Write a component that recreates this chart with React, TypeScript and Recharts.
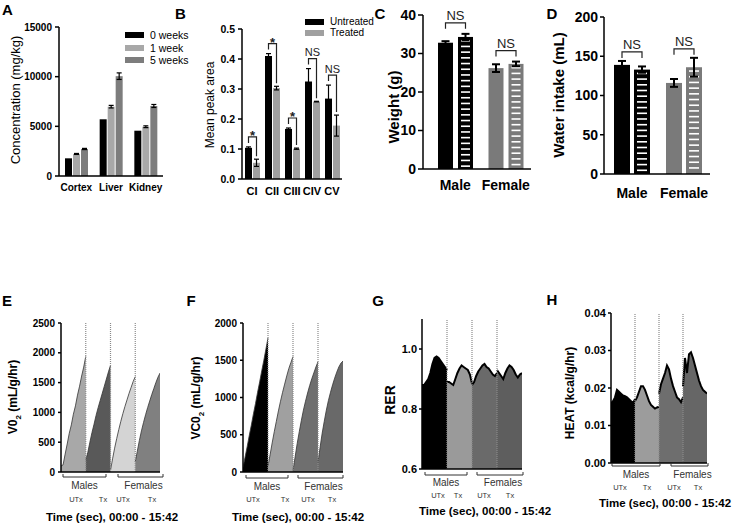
import React from 'react';
import { BarChart, Bar, XAxis, YAxis, ErrorBar, AreaChart, Area, ReferenceLine } from 'recharts';

const FONT = '"Liberation Sans", Arial, Helvetica, sans-serif';

// ---------- Panel A ----------
const tissues = ['Cortex', 'Liver', 'Kidney'];
const conc0w = [1780, 5710, 4560];
const conc1w = [2220, 6980, 4960];
const conc5w = [2720, 10050, 7050];
const conc1wErr = [50, 130, 90];
const conc5wErr = [60, 330, 150];
const concTicks = [0, 5000, 10000, 15000];
const concSeries = ['0 weeks', '1 week', '5 weeks'];
const concColors = ['#000000', '#a8a8a8', '#7d7d7d'];

// ---------- Panel B ----------
const complexes = ['CI', 'CII', 'CIII', 'CIV', 'CV'];
const peakUntreated = [0.104, 0.41, 0.167, 0.325, 0.268];
const peakUntreatedErr = [0.003, 0.008, 0.003, 0.043, 0.045];
const peakTreated = [0.054, 0.303, 0.101, 0.258, 0.178];
const peakTreatedErr = [0.012, 0.006, 0.002, 0.001, 0.035];
const peakSig = ['*', '*', '*', 'NS', 'NS'];
const peakTicks = [0, 0.1, 0.2, 0.3, 0.4, 0.5];
const peakSeries = ['Untreated', 'Treated'];
const peakColors = ['#000000', '#a0a0a0'];

// ---------- Panels C, D ----------
const sexes = ['Male', 'Female'];
const sexColors = ['#000000', '#7a7a7a'];
const weightUTx = [32.8, 26.2];
const weightUTxErr = [0.4, 1.0];
const weightTx = [34.3, 27.3];
const weightTxErr = [0.8, 0.6];
const weightTicks = [0, 10, 20, 30, 40];
const intakeUTx = [139, 116];
const intakeUTxErr = [5, 5];
const intakeTx = [133, 136];
const intakeTxErr = [4, 12];
const intakeTicks = [0, 50, 100, 150, 200];

// ---------- Panels E-H (four phases: Males UTx, Males Tx, Females UTx, Females Tx) ----------
const vo2Phases = [
  [100, 120, 300, 470, 650, 790, 970, 1110, 1290, 1440, 1610, 1760, 1940],
  [200, 330, 500, 660, 800, 950, 1080, 1200, 1320, 1440, 1560, 1680, 1790],
  [30, 220, 400, 560, 710, 850, 980, 1100, 1210, 1320, 1420, 1520, 1600],
  [170, 350, 530, 690, 830, 960, 1080, 1190, 1300, 1400, 1500, 1590, 1660],
];
const vo2Ticks = [0, 500, 1000, 1500, 2000, 2500];
const vco2Phases = [
  [60, 200, 340, 490, 630, 780, 920, 1070, 1210, 1360, 1500, 1650, 1800],
  [80, 230, 390, 540, 680, 820, 950, 1070, 1180, 1290, 1390, 1470, 1550],
  [20, 200, 380, 540, 690, 830, 950, 1060, 1160, 1250, 1330, 1410, 1480],
  [130, 330, 520, 680, 830, 960, 1070, 1170, 1260, 1340, 1410, 1460, 1490],
];
const vco2Ticks = [0, 500, 1000, 1500, 2000];
const rerPhases = [
  [0.88, 0.88, 0.89, 0.9, 0.92, 0.95, 0.97, 0.975, 0.97, 0.96, 0.95, 0.94, 0.93],
  [0.89, 0.89, 0.885, 0.88, 0.9, 0.92, 0.935, 0.945, 0.94, 0.935, 0.93, 0.915, 0.885],
  [0.88, 0.89, 0.91, 0.925, 0.935, 0.945, 0.95, 0.94, 0.935, 0.925, 0.915, 0.91, 0.92],
  [0.93, 0.92, 0.91, 0.9, 0.92, 0.935, 0.945, 0.94, 0.93, 0.915, 0.905, 0.915, 0.92],
];
const rerTicks = [0.6, 0.8, 1.0];
const heatPhases = [
  [0.016, 0.0165, 0.0175, 0.0195, 0.019, 0.0185, 0.018, 0.0178, 0.0175, 0.017, 0.0165, 0.016, 0.017],
  [0.0165, 0.0175, 0.019, 0.0205, 0.0205, 0.0195, 0.018, 0.0165, 0.0155, 0.015, 0.0145, 0.0148, 0.015],
  [0.0185, 0.021, 0.0225, 0.024, 0.026, 0.025, 0.0225, 0.0205, 0.019, 0.0175, 0.017, 0.0162, 0.0175],
  [0.0205, 0.028, 0.024, 0.029, 0.0295, 0.028, 0.026, 0.024, 0.022, 0.0205, 0.0195, 0.019, 0.0185],
];
const heatTicks = [0, 0.01, 0.02, 0.03, 0.04];
const groupLabels = ['Males', 'Females'];
const phaseLabels = ['UTx', 'Tx', 'UTx', 'Tx'];
const timeLabel = 'Time (sec), 00:00 - 15:42';

// ---------- data tables ----------
const concData = tissues.map((name, i) => ({
  name, w0: conc0w[i], w1: conc1w[i], w5: conc5w[i], w1Err: conc1wErr[i], w5Err: conc5wErr[i],
}));
const peakData = complexes.map((name, i) => ({
  name, untreated: peakUntreated[i], untreatedErr: peakUntreatedErr[i],
  treated: peakTreated[i], treatedErr: peakTreatedErr[i], sig: peakSig[i],
}));
const weightData = sexes.map((name, i) => ({
  name, utx: weightUTx[i], utxErr: weightUTxErr[i], tx: weightTx[i], txErr: weightTxErr[i],
}));
const intakeData = sexes.map((name, i) => ({
  name, utx: intakeUTx[i], utxErr: intakeUTxErr[i], tx: intakeTx[i], txErr: intakeTxErr[i],
}));

function buildPhaseRows(phases: number[][]) {
  const n = phases[0].length - 1;
  const rows: any[] = [];
  for (let t = 0; t <= n * phases.length; t++) {
    const row: any = { t };
    phases.forEach((seg, s) => {
      const i = t - s * n;
      row['p' + s] = i >= 0 && i <= n ? seg[i] : null;
    });
    rows.push(row);
  }
  return rows;
}

// ---------- helpers ----------
const abs = (left: number, top: number): React.CSSProperties => ({ position: 'absolute', left, top });

function Txt({ x, y, children, size = 12, weight = 'normal', color = '#000', rotate = false }: any) {
  return (
    <div
      style={{
        position: 'absolute', left: x, top: y, fontSize: size, fontWeight: weight, color,
        whiteSpace: 'nowrap', lineHeight: 1, fontFamily: FONT,
        transform: `translate(-50%, -50%)${rotate ? ' rotate(-90deg)' : ''}`,
      }}
    >
      {children}
    </div>
  );
}

function LegendBox({ x, y, rowGap, items, colors, size }: any) {
  return (
    <div style={{ position: 'absolute', left: x, top: y, fontFamily: FONT, fontSize: size }}>
      {items.map((it: string, i: number) => (
        <div key={it} style={{ display: 'flex', alignItems: 'center', height: rowGap, lineHeight: 1 }}>
          <div style={{ width: 19, height: 6, background: colors[i], marginRight: 6 }} />
          <span>{it}</span>
        </div>
      ))}
    </div>
  );
}

const axisLine = { stroke: '#000', strokeWidth: 1.5 };
const tickLine = { stroke: '#000', strokeWidth: 1.5 };

// Treated bar of B with the significance bracket
const B_GAP = 1;
function PeakTreatedShape(props: any) {
  const { x, y, width, height, payload } = props;
  const unit = height / payload.treated;
  const base = y + height;
  const xu = x - B_GAP - width / 2;
  const xt = x + width / 2;
  const yu = base - (payload.untreated + payload.untreatedErr) * unit;
  const yt = y - payload.treatedErr * unit;
  const hy = yu - 10;
  const star = payload.sig === '*';
  return (
    <g>
      <rect x={x} y={y} width={width} height={height} fill={peakColors[1]} />
      <path d={`M${xu},${hy + 6}L${xu},${hy}L${xt},${hy}L${xt},${yt - 3}`} fill="none" stroke="#222" strokeWidth={1.2} />
      <text x={(xu + xt) / 2} y={star ? hy + 3 : hy - 2.5} textAnchor="middle" fontSize={star ? 13 : 11}
        fontWeight={star ? 'bold' : 'normal'} fill="#222" fontFamily={FONT}>{payload.sig}</text>
    </g>
  );
}

function makeSexShapes(gap: number, rise: number) {
  const UTx = (props: any) => {
    const { x, y, width, height, index } = props;
    return <rect x={x} y={y} width={width} height={height} fill={sexColors[index]} />;
  };
  const Tx = (props: any) => {
    const { x, y, width, height, index, payload } = props;
    const unit = height / payload.tx;
    const base = y + height;
    const dashes: any[] = [];
    for (let yy = y + 3; yy < base - 2; yy += 5.7) {
      dashes.push(<rect key={yy} x={x + 3} y={yy} width={width - 6} height={1.6} fill="#fff" />);
    }
    const xu = x - gap - width / 2;
    const xt = x + width / 2;
    const yu = base - (payload.utx + payload.utxErr) * unit;
    const yt = y - payload.txErr * unit;
    const hy = Math.min(yu, yt) - rise;
    return (
      <g>
        <rect x={x} y={y} width={width} height={height} fill={sexColors[index]} />
        {dashes}
        <path d={`M${xu},${hy + 6}L${xu},${hy}L${xt},${hy}L${xt},${hy + 6}`} fill="none" stroke="#222" strokeWidth={1.2} />
        <text x={(xu + xt) / 2} y={hy - 2.5} textAnchor="middle" fontSize={13} fill="#222" fontFamily={FONT}>NS</text>
      </g>
    );
  };
  return { UTx, Tx };
}

function SexPanel({ left, data, ticks, yw, width, height, margin, barSize, gap, rise, tickSize, tickMargin, xTickMargin, padLeft }: any) {
  const shapes = makeSexShapes(gap, rise);
  return (
    <div style={abs(left, 0)}>
      <BarChart width={width} height={height} data={data} margin={margin} barSize={barSize} barGap={gap}>
        <XAxis dataKey="name" axisLine={axisLine} tickLine={false} tickSize={0} tickMargin={xTickMargin} height={24}
          interval={0} padding={{ left: padLeft, right: 0 }}
          tick={{ fontSize: 14, fontWeight: 'bold', fill: '#000', fontFamily: FONT }} />
        <YAxis type="number" domain={[ticks[0], ticks[ticks.length - 1]]} ticks={ticks} width={yw} interval={0}
          axisLine={axisLine} tickLine={tickLine} tickSize={tickSize} tickMargin={tickMargin}
          tick={{ fontSize: 14, fontWeight: 'bold', fill: '#000', fontFamily: FONT }} />
        <Bar dataKey="utx" isAnimationActive={false} shape={shapes.UTx}>
          <ErrorBar dataKey="utxErr" width={4} strokeWidth={2} stroke="#000" />
        </Bar>
        <Bar dataKey="tx" isAnimationActive={false} shape={shapes.Tx}>
          <ErrorBar dataKey="txErr" width={4} strokeWidth={2} stroke="#000" />
        </Bar>
      </BarChart>
    </div>
  );
}

function PhasePanel({ left, top, width, height, margin, yw, phases, colors, ticks, fmt, strokeW, tickSize, tickMargin, tickFont }: any) {
  const rows = buildPhaseRows(phases);
  const n = phases[0].length - 1;
  const total = n * phases.length;
  const bounds = phases.slice(1).map((_: any, i: number) => (i + 1) * n);
  return (
    <div style={abs(left, top)}>
      <AreaChart width={width} height={height} data={rows} margin={margin}>
        <XAxis dataKey="t" type="number" domain={[0, total]} allowDataOverflow tick={false} tickLine={false}
          axisLine={axisLine} height={2} />
        <YAxis type="number" domain={[ticks[0], ticks[ticks.length - 1] + (fmt === 1 ? 0.1 : 0)]} allowDataOverflow
          ticks={ticks} interval={0} width={yw} axisLine={axisLine} tickLine={tickLine} tickSize={tickSize}
          tickMargin={tickMargin} tickFormatter={(v: number) => (fmt === 0 ? String(v) : v.toFixed(fmt))}
          tick={{ fontSize: tickFont, fontWeight: 'bold', fill: '#000', fontFamily: FONT }} />
        {phases.map((_: any, s: number) => (
          <Area key={s} dataKey={'p' + s} type="linear" fill={colors[s]} fillOpacity={1}
            stroke={strokeW > 1 ? '#000' : '#333'} strokeWidth={strokeW} dot={false} activeDot={false}
            isAnimationActive={false} connectNulls={false} />
        ))}
        {bounds.map((b: number) => (
          <ReferenceLine key={b} x={b} stroke="#8a8a8a" strokeWidth={1.2} strokeDasharray="1 1" />
        ))}
      </AreaChart>
    </div>
  );
}

function PhaseLabels({ males, females, bracketY, groupY, phaseY, phaseXs, timeX, timeY }: any) {
  const br = (a: number, b: number) => `M${a},${bracketY - 3}L${a},${bracketY}L${b},${bracketY}L${b},${bracketY - 3}`;
  return (
    <>
      <svg style={{ position: 'absolute', left: 0, top: 0, overflow: 'visible' }} width={1} height={1}>
        <path d={br(males[0], males[1])} fill="none" stroke="#333" strokeWidth={1} />
        <path d={br(females[0], females[1])} fill="none" stroke="#333" strokeWidth={1} />
      </svg>
      <Txt x={(males[0] + males[1]) / 2} y={groupY} size={10} color="#333">{groupLabels[0]}</Txt>
      <Txt x={(females[0] + females[1]) / 2 + 3} y={groupY} size={10} color="#333">{groupLabels[1]}</Txt>
      {phaseXs.map((x: number, i: number) => (
        <Txt key={i} x={x} y={phaseY} size={7.5} color="#333">{phaseLabels[i]}</Txt>
      ))}
      <Txt x={timeX} y={timeY} size={11.5} weight="bold">{timeLabel}</Txt>
    </>
  );
}

export default function App() {
  return (
    <div style={{ position: 'absolute', left: 0, top: 0, width: 733, height: 528, background: '#fff', fontFamily: FONT, overflow: 'hidden' }}>
      {/* Panel letters */}
      <Txt x={7.5} y={9} size={15} weight="bold">A</Txt>
      <Txt x={180.5} y={12.5} size={15} weight="bold">B</Txt>
      <Txt x={380} y={12.5} size={15} weight="bold">C</Txt>
      <Txt x={552} y={12.5} size={15} weight="bold">D</Txt>
      <Txt x={7} y={300} size={15} weight="bold">E</Txt>
      <Txt x={191} y={300} size={15} weight="bold">F</Txt>
      <Txt x={378} y={300} size={15} weight="bold">G</Txt>
      <Txt x={552} y={299} size={15} weight="bold">H</Txt>

      {/* Panel A */}
      <div style={abs(0, 0)}>
        <BarChart width={185} height={200} data={concData} margin={{ top: 27, right: 22, bottom: 4, left: 0 }} barSize={7} barGap={1}>
          <XAxis dataKey="name" axisLine={axisLine} tickLine={false} tickSize={0} tickMargin={8} height={20} interval={0}
            tick={{ fontSize: 10, fontWeight: 'bold', fill: '#000', fontFamily: FONT }} />
          <YAxis type="number" domain={[0, 15000]} ticks={concTicks} interval={0} width={59} axisLine={axisLine}
            tickLine={tickLine} tickSize={4} tickMargin={3}
            tick={{ fontSize: 10, fontWeight: 'bold', fill: '#000', fontFamily: FONT }} />
          <Bar dataKey="w0" fill={concColors[0]} isAnimationActive={false} />
          <Bar dataKey="w1" fill={concColors[1]} isAnimationActive={false}>
            <ErrorBar dataKey="w1Err" width={2.5} strokeWidth={1.2} stroke="#000" />
          </Bar>
          <Bar dataKey="w5" fill={concColors[2]} isAnimationActive={false}>
            <ErrorBar dataKey="w5Err" width={2.5} strokeWidth={1.2} stroke="#000" />
          </Bar>
        </BarChart>
      </div>
      <Txt x={15} y={100} size={13} rotate>Concentration (mg/kg)</Txt>
      <LegendBox x={125} y={29} rowGap={12.5} items={concSeries} colors={concColors} size={10.5} />

      {/* Panel B */}
      <div style={abs(185, 0)}>
        <BarChart width={170} height={200} data={peakData} margin={{ top: 29, right: 13, bottom: 1, left: 0 }} barSize={7} barGap={B_GAP}>
          <XAxis dataKey="name" axisLine={axisLine} tickLine={false} tickSize={0} tickMargin={8} height={20} interval={0}
            tick={{ fontSize: 11, fontWeight: 'bold', fill: '#000', fontFamily: FONT }} />
          <YAxis type="number" domain={[0, 0.5]} ticks={peakTicks} interval={0} width={57} axisLine={axisLine}
            tickLine={tickLine} tickSize={4} tickMargin={3} tickFormatter={(v: number) => v.toFixed(1)}
            tick={{ fontSize: 10.5, fontWeight: 'bold', fill: '#000', fontFamily: FONT }} />
          <Bar dataKey="untreated" fill={peakColors[0]} isAnimationActive={false}>
            <ErrorBar dataKey="untreatedErr" width={2.5} strokeWidth={1.2} stroke="#000" />
          </Bar>
          <Bar dataKey="treated" fill={peakColors[1]} isAnimationActive={false} shape={PeakTreatedShape}>
            <ErrorBar dataKey="treatedErr" width={2.5} strokeWidth={1.2} stroke="#000" />
          </Bar>
        </BarChart>
      </div>
      <Txt x={210} y={105} size={12} rotate>Mean peak area</Txt>
      <LegendBox x={305} y={16} rowGap={11} items={peakSeries} colors={peakColors} size={10} />

      {/* Panel C */}
      <SexPanel left={370} data={weightData} ticks={weightTicks} yw={53} width={175} height={200}
        margin={{ top: 15, right: 14, bottom: 7, left: 0 }} barSize={15} gap={5} rise={11}
        tickSize={5} tickMargin={2} xTickMargin={11} padLeft={7} />
      <Txt x={393} y={107} size={15} weight="bold" rotate>Weight (g)</Txt>

      {/* Panel D */}
      <SexPanel left={545} data={intakeData} ticks={intakeTicks} yw={59} width={188} height={200}
        margin={{ top: 17, right: 23, bottom: 2, left: 0 }} barSize={16} gap={4} rise={9}
        tickSize={4} tickMargin={2} xTickMargin={14} padLeft={2} />
      <Txt x={558} y={95} size={15} weight="bold" rotate>Water intake (mL)</Txt>

      {/* Panel E */}
      <PhasePanel left={0} top={290} width={185} height={200} margin={{ top: 33, right: 25, bottom: 16, left: 0 }} yw={61}
        phases={vo2Phases} colors={['#a8a8a8', '#595959', '#d4d4d4', '#808080']} ticks={vo2Ticks} fmt={0}
        strokeW={0.8} tickSize={3} tickMargin={3} tickFont={10} />
      <Txt x={15} y={397} size={12} weight="bold" rotate>V0<sub style={{ fontSize: 8 }}>2</sub> (mL/g/hr)</Txt>
      <PhaseLabels males={[63, 106]} females={[118, 163]} bracketY={477} groupY={486} phaseY={500}
        phaseXs={[76, 103, 123, 152]} timeX={112} timeY={518} />

      {/* Panel F */}
      <PhasePanel left={185} top={290} width={170} height={200} margin={{ top: 33, right: 12, bottom: 16, left: 0 }} yw={58}
        phases={vco2Phases} colors={['#000000', '#a0a0a0', '#6f6f6f', '#696969']} ticks={vco2Ticks} fmt={0}
        strokeW={0.8} tickSize={3} tickMargin={3} tickFont={10} />
      <Txt x={198} y={398} size={12} weight="bold" rotate>VC0<sub style={{ fontSize: 8 }}>2</sub> (mL/g/hr)</Txt>
      <PhaseLabels males={[246, 288]} females={[298, 343]} bracketY={478} groupY={487} phaseY={500}
        phaseXs={[253, 285, 308, 332]} timeX={298} timeY={518} />

      {/* Panel G */}
      <PhasePanel left={370} top={290} width={170} height={200} margin={{ top: 29, right: 18, bottom: 19, left: 0 }} yw={52}
        phases={rerPhases} colors={['#000000', '#9a9a9a', '#6a6a6a', '#5e5e5e']} ticks={rerTicks} fmt={1}
        strokeW={2} tickSize={3} tickMargin={2} tickFont={11} />
      <Txt x={390} y={400} size={14} weight="bold" rotate>RER</Txt>
      <PhaseLabels males={[425, 467]} females={[477, 523]} bracketY={475} groupY={483} phaseY={496}
        phaseXs={[438, 458, 484, 510]} timeX={485} timeY={512} />

      {/* Panel H */}
      <PhasePanel left={545} top={290} width={188} height={200} margin={{ top: 23, right: 26, bottom: 25, left: 0 }} yw={66}
        phases={heatPhases} colors={['#000000', '#9c9c9c', '#6e6e6e', '#666666']} ticks={heatTicks} fmt={2}
        strokeW={2} tickSize={3} tickMargin={2} tickFont={11} />
      <Txt x={570} y={393} size={12} weight="bold" rotate>HEAT (kcal/g/hr)</Txt>
      <PhaseLabels males={[612, 660]} females={[671, 708]} bracketY={466} groupY={475} phaseY={488}
        phaseXs={[620, 647, 674, 698]} timeX={665} timeY={504} />
    </div>
  );
}
